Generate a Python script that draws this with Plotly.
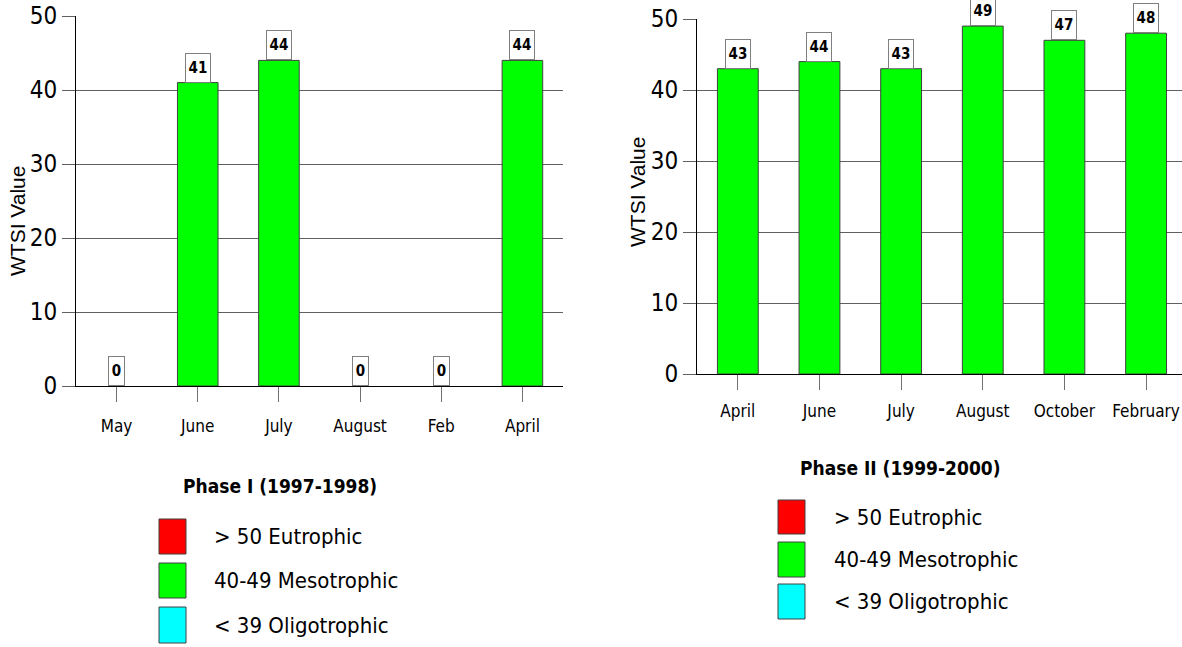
import plotly.graph_objects as go

# WTSI values per sampling month
phase1_months = ["May", "June", "July", "August", "Feb", "April"]
phase1_values = [0, 41, 44, 0, 0, 44]

phase2_months = ["April", "June", "July", "August", "October", "February"]
phase2_values = [43, 44, 43, 49, 47, 48]

y_ticks = [0, 10, 20, 30, 40, 50]

legend_labels = ["> 50 Eutrophic", "40-49 Mesotrophic", "< 39 Oligotrophic"]
legend_colors = ["#FF0000", "#00FF00", "#00FFFF"]

phase_titles = ["Phase I (1997-1998)", "Phase II (1999-2000)"]

W, H = 1182, 647
NARROW = "DejaVu Sans Condensed, Liberation Sans Narrow, sans-serif"
BAR_GREEN = "#00FF00"


def px(x):
    return x / W


def py(y):
    return 1 - y / H


def bar_trace(values, xa, ya):
    # zero-height bars carry no outline so nothing shows at the baseline
    return go.Bar(
        x=list(range(len(values))), y=values, width=0.5,
        marker=dict(color=BAR_GREEN,
                    line=dict(color="#404040", width=[0 if v == 0 else 1 for v in values])),
        xaxis=xa, yaxis=ya, showlegend=False, hoverinfo="skip",
    )


fig = go.Figure()
fig.add_trace(bar_trace(phase1_values, "x", "y"))
fig.add_trace(bar_trace(phase2_values, "x2", "y2"))

common_x = dict(showline=True, linecolor="black", linewidth=1, ticks="outside",
                ticklen=15, tickcolor="#707070", tickwidth=1, showgrid=False,
                zeroline=False, tickfont=dict(family=NARROW, size=17, color="black"),
                ticklabeloverflow="allow", automargin=False, fixedrange=True)
common_y = dict(range=[0, 50], tickvals=y_ticks, showline=True, linecolor="black",
                linewidth=1, ticks="outside", ticklen=13, tickcolor="#606060",
                showgrid=True, gridcolor="#606060", gridwidth=1, zeroline=False,
                tickfont=dict(family=NARROW, size=24, color="black"),
                automargin=False, fixedrange=True)

fig.update_layout(
    width=W, height=H,
    margin=dict(l=0, r=0, t=0, b=0, autoexpand=False),
    paper_bgcolor="white", plot_bgcolor="white",
    xaxis=dict(domain=[px(76), px(563)], range=[-0.5, 5.5],
               tickvals=list(range(len(phase1_months))), ticktext=phase1_months,
               anchor="y", ticklabelstandoff=10, **common_x),
    yaxis=dict(domain=[py(386), py(16)], anchor="x", **common_y),
    xaxis2=dict(domain=[px(697), 1.0], range=[-0.5, 5.44],
                tickvals=list(range(len(phase2_months))), ticktext=phase2_months,
                anchor="y2", ticklabelstandoff=7, **common_x),
    yaxis2=dict(domain=[py(374), py(19)], anchor="x2", **common_y),
)

annotations = []

# value boxes above each bar
for xa, ya, vals in (("x", "y", phase1_values), ("x2", "y2", phase2_values)):
    for i, v in enumerate(vals):
        txt = str(v)
        annotations.append(dict(
            x=i, y=v, xref=xa, yref=ya, text=f"<b>{txt}</b>", showarrow=False,
            yanchor="bottom", xanchor="center",
            font=dict(family=NARROW, size=15, color="black"),
            bgcolor="white", bordercolor="#808080", borderwidth=1, borderpad=1,
            width=4 + 9 * len(txt), height=26,
        ))

# rotated y-axis titles
for xc, yc in ((18, 221), (638, 192)):
    annotations.append(dict(
        x=px(xc), y=py(yc), xref="paper", yref="paper", text="WTSI Value",
        textangle=-90, showarrow=False, xanchor="center", yanchor="middle",
        font=dict(family="Liberation Sans, Arial, sans-serif", size=21, color="black"),
    ))

# phase titles and colour key
shapes = []
legend_specs = [
    dict(title=phase_titles[0], tx=280, ty=486, sx0=159, sx1=186,
         rows=[(519, 554), (563, 598), (607, 643)], lx=212),
    dict(title=phase_titles[1], tx=900, ty=468, sx0=778, sx1=805,
         rows=[(500, 534), (542, 577), (584, 619)], lx=832),
]
for spec in legend_specs:
    annotations.append(dict(
        x=px(spec["tx"]), y=py(spec["ty"]), xref="paper", yref="paper",
        text=f"<b>{spec['title']}</b>", showarrow=False,
        xanchor="center", yanchor="middle",
        font=dict(family=NARROW, size=19, color="black"),
    ))
    for (y0, y1), lab, col in zip(spec["rows"], legend_labels, legend_colors):
        shapes.append(dict(
            type="rect", xref="paper", yref="paper",
            x0=px(spec["sx0"]), x1=px(spec["sx1"]), y0=py(y1), y1=py(y0),
            fillcolor=col, line=dict(color="#404040", width=1),
        ))
        annotations.append(dict(
            x=px(spec["lx"]), y=py((y0 + y1) / 2), xref="paper", yref="paper",
            text=lab, showarrow=False, xanchor="left", yanchor="middle",
            font=dict(family=NARROW, size=22, color="black"),
        ))

fig.update_layout(annotations=annotations, shapes=shapes)

fig.write_html("out.html")
